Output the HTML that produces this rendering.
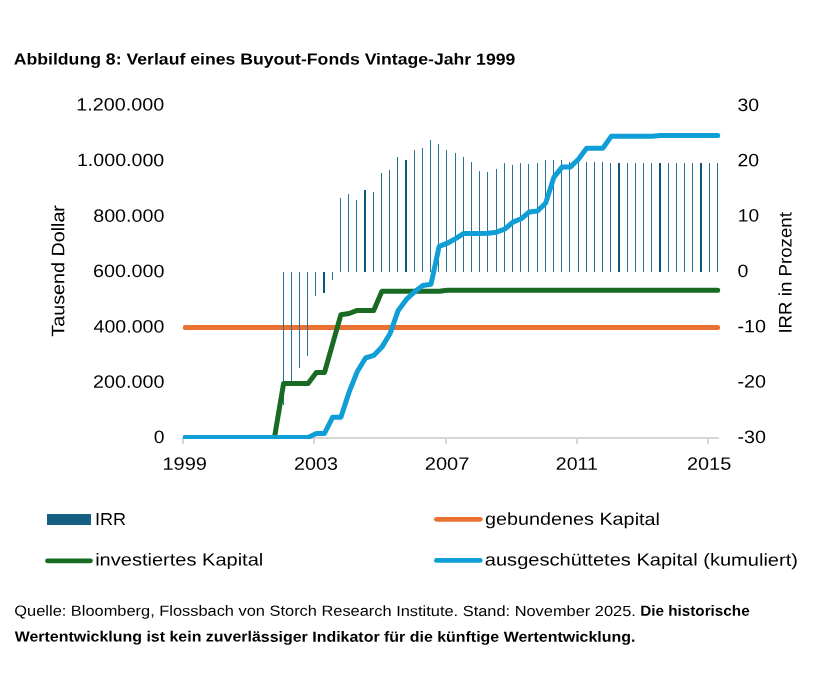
<!DOCTYPE html>
<html lang="de"><head><meta charset="utf-8"><title>Abbildung 8</title>
<style>html,body{margin:0;padding:0;background:#fff}svg{display:block;will-change:transform}text{white-space:pre;text-rendering:geometricPrecision}</style></head>
<body>
<svg width="827" height="699" viewBox="0 0 827 699" font-family="'Liberation Sans', sans-serif" fill="#000">
<rect width="827" height="699" fill="#fff"/>
<g fill="#d6d6d6" shape-rendering="crispEdges">
<rect x="182" y="437" width="537" height="2"/>
<rect x="182" y="439" width="2" height="5"/>
<rect x="313" y="439" width="2" height="5"/>
<rect x="445" y="439" width="2" height="5"/>
<rect x="576" y="439" width="2" height="5"/>
<rect x="707" y="439" width="2" height="5"/>
</g>
<defs><clipPath id="pc"><rect x="183" y="80" width="560" height="359"/></clipPath></defs>
<g clip-path="url(#pc)">
<path d="M185.3 327.45H717.6" stroke="#e97132" stroke-width="5" stroke-linecap="round" fill="none"/>
<g shape-rendering="crispEdges">
<rect x="283" y="271.8" width="1" height="133.5" fill="#2a7397"/>
<rect x="291" y="271.8" width="1" height="111.2" fill="#2a7397"/>
<rect x="299" y="271.8" width="1" height="95.7" fill="#2a7397"/>
<rect x="307" y="271.8" width="1" height="83.9" fill="#2a7397"/>
<rect x="315" y="271.8" width="1" height="23.8" fill="#2a7397"/>
<rect x="323" y="271.8" width="2" height="20.9" fill="#0f587b"/>
<rect x="332" y="271.8" width="1" height="7.9" fill="#2a7397"/>
<rect x="340" y="198.0" width="1" height="73.8" fill="#2a7397"/>
<rect x="348" y="194.0" width="1" height="77.8" fill="#2a7397"/>
<rect x="356" y="200.1" width="1" height="71.7" fill="#2a7397"/>
<rect x="364" y="190.0" width="2" height="81.8" fill="#0f587b"/>
<rect x="373" y="191.9" width="1" height="79.9" fill="#2a7397"/>
<rect x="381" y="173.0" width="1" height="98.8" fill="#2a7397"/>
<rect x="389" y="170.0" width="1" height="101.8" fill="#2a7397"/>
<rect x="397" y="157.0" width="1" height="114.8" fill="#2a7397"/>
<rect x="405" y="159.9" width="2" height="111.9" fill="#0f587b"/>
<rect x="414" y="150.0" width="1" height="121.8" fill="#2a7397"/>
<rect x="422" y="147.9" width="1" height="123.9" fill="#2a7397"/>
<rect x="430" y="140.0" width="1" height="131.8" fill="#2a7397"/>
<rect x="438" y="144.0" width="1" height="127.8" fill="#2a7397"/>
<rect x="446" y="150.1" width="1" height="121.7" fill="#2a7397"/>
<rect x="455" y="153.0" width="1" height="118.8" fill="#2a7397"/>
<rect x="463" y="157.0" width="1" height="114.8" fill="#2a7397"/>
<rect x="471" y="162.1" width="1" height="109.7" fill="#2a7397"/>
<rect x="479" y="171.1" width="1" height="100.7" fill="#2a7397"/>
<rect x="487" y="172.1" width="1" height="99.7" fill="#2a7397"/>
<rect x="496" y="169.1" width="1" height="102.7" fill="#2a7397"/>
<rect x="504" y="163.0" width="1" height="108.8" fill="#2a7397"/>
<rect x="512" y="165.0" width="1" height="106.8" fill="#2a7397"/>
<rect x="520" y="163.0" width="1" height="108.8" fill="#2a7397"/>
<rect x="528" y="164.2" width="1" height="107.6" fill="#2a7397"/>
<rect x="537" y="163.0" width="1" height="108.8" fill="#2a7397"/>
<rect x="545" y="159.9" width="1" height="111.9" fill="#2a7397"/>
<rect x="553" y="159.9" width="1" height="111.9" fill="#2a7397"/>
<rect x="561" y="159.9" width="1" height="111.9" fill="#2a7397"/>
<rect x="569" y="162.1" width="1" height="109.7" fill="#2a7397"/>
<rect x="578" y="161.5" width="1" height="110.3" fill="#2a7397"/>
<rect x="586" y="162.1" width="1" height="109.7" fill="#2a7397"/>
<rect x="594" y="162.1" width="1" height="109.7" fill="#2a7397"/>
<rect x="602" y="162.1" width="1" height="109.7" fill="#2a7397"/>
<rect x="610" y="163.0" width="1" height="108.8" fill="#2a7397"/>
<rect x="618" y="163.0" width="2" height="108.8" fill="#0f587b"/>
<rect x="627" y="163.0" width="1" height="108.8" fill="#2a7397"/>
<rect x="635" y="163.0" width="1" height="108.8" fill="#2a7397"/>
<rect x="643" y="163.0" width="1" height="108.8" fill="#2a7397"/>
<rect x="651" y="163.0" width="1" height="108.8" fill="#2a7397"/>
<rect x="659" y="163.0" width="2" height="108.8" fill="#0f587b"/>
<rect x="668" y="163.0" width="1" height="108.8" fill="#2a7397"/>
<rect x="676" y="163.0" width="1" height="108.8" fill="#2a7397"/>
<rect x="684" y="163.0" width="1" height="108.8" fill="#2a7397"/>
<rect x="692" y="163.0" width="1" height="108.8" fill="#2a7397"/>
<rect x="700" y="163.0" width="2" height="108.8" fill="#0f587b"/>
<rect x="709" y="163.0" width="1" height="108.8" fill="#2a7397"/>
<rect x="717" y="163.0" width="1" height="108.8" fill="#2a7397"/>
</g>
<polyline points="185.3,437.4 193.5,437.4 201.7,437.4 209.9,437.4 218.1,437.4 226.2,437.4 234.4,437.4 242.6,437.4 250.8,437.4 259.0,437.4 267.2,437.4 274.5,437.4 283.6,383.4 291.8,383.4 300.0,383.4 308.1,383.4 316.3,372.5 324.5,372.5 332.7,343.6 340.9,314.7 349.1,313.5 357.3,310.4 365.5,310.4 373.7,310.4 381.9,291.3 390.1,291.3 398.2,291.3 406.4,291.3 414.6,291.3 422.8,291.3 431.0,291.3 439.2,291.3 447.4,290.3 455.6,290.3 463.8,290.3 471.9,290.3 480.1,290.3 488.3,290.3 496.5,290.3 504.7,290.3 512.9,290.3 521.1,290.3 529.3,290.3 537.5,290.3 545.7,290.3 553.8,290.3 562.0,290.3 570.2,290.3 578.4,290.3 586.6,290.3 594.8,290.3 603.0,290.3 611.2,290.3 619.4,290.3 627.6,290.3 635.8,290.3 643.9,290.3 652.1,290.3 660.3,290.3 668.5,290.3 676.7,290.3 684.9,290.3 693.1,290.3 701.3,290.3 709.5,290.3 717.7,290.3" stroke="#196b24" stroke-width="5" stroke-linecap="round" stroke-linejoin="round" fill="none"/>
<polyline points="185.3,437.4 193.5,437.4 201.7,437.4 209.9,437.4 218.1,437.4 226.2,437.4 234.4,437.4 242.6,437.4 250.8,437.4 259.0,437.4 267.2,437.4 275.4,437.4 283.6,437.4 291.8,437.4 300.0,437.4 308.1,437.4 316.3,433.4 324.5,433.4 332.7,417.2 340.9,417.2 349.1,392.1 357.3,371.5 365.5,358.0 373.7,355.4 381.9,347.1 390.1,333.5 398.2,310.4 406.4,299.4 414.6,291.7 422.8,285.5 431.0,284.2 439.2,246.3 447.4,243.2 455.6,238.6 463.8,233.4 471.9,233.5 480.1,233.5 488.3,233.3 496.5,232.2 504.7,229.2 512.9,222.1 521.1,218.8 529.3,212.0 537.5,211.0 545.7,203.0 553.8,177.4 562.0,167.1 570.2,167.1 578.4,159.2 586.6,148.2 594.8,148.2 603.0,148.2 611.2,136.3 619.4,136.3 627.6,136.3 635.8,136.3 643.9,136.3 652.1,136.3 660.3,135.5 668.5,135.5 676.7,135.5 684.9,135.5 693.1,135.5 701.3,135.5 709.5,135.5 717.7,135.5" stroke="#0f9ed5" stroke-width="5" stroke-linecap="round" stroke-linejoin="round" fill="none"/>
</g>
<text id="title" x="13.75" y="64.40" transform="rotate(0.03 13.75 64.40)" font-size="16" font-weight="bold" textLength="501.59" lengthAdjust="spacingAndGlyphs">Abbildung 8: Verlauf eines Buyout-Fonds Vintage-Jahr 1999</text>
<text id="yl0" x="76.36" y="110.56" transform="rotate(0.03 76.36 110.56)" font-size="17.9" font-weight="normal" textLength="87.95" lengthAdjust="spacingAndGlyphs">1.200.000</text>
<text id="yl1" x="76.95" y="166.10" transform="rotate(0.03 76.95 166.10)" font-size="17.9" font-weight="normal" textLength="87.36" lengthAdjust="spacingAndGlyphs">1.000.000</text>
<text id="yl2" x="93.21" y="221.77" transform="rotate(0.03 93.21 221.77)" font-size="17.9" font-weight="normal" textLength="71.19" lengthAdjust="spacingAndGlyphs">800.000</text>
<text id="yl3" x="93.09" y="277.10" transform="rotate(0.03 93.09 277.10)" font-size="17.9" font-weight="normal" textLength="71.31" lengthAdjust="spacingAndGlyphs">600.000</text>
<text id="yl4" x="93.57" y="332.40" transform="rotate(0.03 93.57 332.40)" font-size="17.9" font-weight="normal" textLength="70.82" lengthAdjust="spacingAndGlyphs">400.000</text>
<text id="yl5" x="93.11" y="387.77" transform="rotate(0.03 93.11 387.77)" font-size="17.9" font-weight="normal" textLength="71.29" lengthAdjust="spacingAndGlyphs">200.000</text>
<text id="yl6" x="153.70" y="443.10" transform="rotate(0.03 153.70 443.10)" font-size="17.9" font-weight="normal" textLength="10.76" lengthAdjust="spacingAndGlyphs">0</text>
<text id="yr0" x="737.52" y="110.90" transform="rotate(0.03 737.52 110.90)" font-size="17.9" font-weight="normal" textLength="21.62" lengthAdjust="spacingAndGlyphs">30</text>
<text id="yr1" x="737.52" y="166.23" transform="rotate(0.03 737.52 166.23)" font-size="17.9" font-weight="normal" textLength="21.62" lengthAdjust="spacingAndGlyphs">20</text>
<text id="yr2" x="737.81" y="221.56" transform="rotate(0.03 737.81 221.56)" font-size="17.9" font-weight="normal" textLength="21.33" lengthAdjust="spacingAndGlyphs">10</text>
<text id="yr3" x="737.51" y="276.89" transform="rotate(0.03 737.51 276.89)" font-size="17.9" font-weight="normal" textLength="10.88" lengthAdjust="spacingAndGlyphs">0</text>
<text id="yr4" x="737.51" y="332.22" transform="rotate(0.03 737.51 332.22)" font-size="17.9" font-weight="normal" textLength="28.53" lengthAdjust="spacingAndGlyphs">-10</text>
<text id="yr5" x="737.51" y="387.55" transform="rotate(0.03 737.51 387.55)" font-size="17.9" font-weight="normal" textLength="28.53" lengthAdjust="spacingAndGlyphs">-20</text>
<text id="yr6" x="737.51" y="442.88" transform="rotate(0.03 737.51 442.88)" font-size="17.9" font-weight="normal" textLength="28.53" lengthAdjust="spacingAndGlyphs">-30</text>
<text id="xl0" x="162.48" y="469.74" transform="rotate(0.03 162.48 469.74)" font-size="17.9" font-weight="normal" textLength="44.51" lengthAdjust="spacingAndGlyphs">1999</text>
<text id="xl1" x="294.03" y="469.74" transform="rotate(0.03 294.03 469.74)" font-size="17.9" font-weight="normal" textLength="43.93" lengthAdjust="spacingAndGlyphs">2003</text>
<text id="xl2" x="424.75" y="469.74" transform="rotate(0.03 424.75 469.74)" font-size="17.9" font-weight="normal" textLength="44.62" lengthAdjust="spacingAndGlyphs">2007</text>
<text id="xl3" x="555.82" y="469.74" transform="rotate(0.03 555.82 469.74)" font-size="17.9" font-weight="normal" textLength="41.98" lengthAdjust="spacingAndGlyphs">2011</text>
<text id="xl4" x="686.93" y="469.74" transform="rotate(0.03 686.93 469.74)" font-size="17.9" font-weight="normal" textLength="44.33" lengthAdjust="spacingAndGlyphs">2015</text>
<text id="ayl" transform="translate(64.20 336.63) rotate(-89.97)" x="0" y="0" font-size="18.1" font-weight="normal" textLength="131.57" lengthAdjust="spacingAndGlyphs">Tausend Dollar</text>
<text id="ayr" transform="translate(791.40 333.60) rotate(-89.97)" x="0" y="0" font-size="18.1" font-weight="normal" textLength="121.45" lengthAdjust="spacingAndGlyphs">IRR in Prozent</text>
<rect x="47" y="514" width="44" height="11" fill="#156082"/>
<path d="M47.5 560.8H90.5" stroke="#196b24" stroke-width="4.8" stroke-linecap="round"/>
<path d="M436.4 519.3H480.2" stroke="#e97132" stroke-width="4.8" stroke-linecap="round"/>
<path d="M436.4 560.4H480.2" stroke="#0f9ed5" stroke-width="4.8" stroke-linecap="round"/>
<text id="lg0" x="94.93" y="525.00" transform="rotate(0.03 94.93 525.00)" font-size="17.3" font-weight="normal" textLength="31.06" lengthAdjust="spacingAndGlyphs">IRR</text>
<text id="lg1" x="95.16" y="565.50" transform="rotate(0.03 95.16 565.50)" font-size="17.3" font-weight="normal" textLength="168.13" lengthAdjust="spacingAndGlyphs">investiertes Kapital</text>
<text id="lg2" x="484.93" y="524.80" transform="rotate(0.03 484.93 524.80)" font-size="17.3" font-weight="normal" textLength="175.02" lengthAdjust="spacingAndGlyphs">gebundenes Kapital</text>
<text id="lg3" x="484.84" y="565.50" transform="rotate(0.03 484.84 565.50)" font-size="17.3" font-weight="normal" textLength="313.11" lengthAdjust="spacingAndGlyphs">ausgeschüttetes Kapital (kumuliert)</text>
<text id="c1" x="14.37" y="615.70" transform="rotate(0.03 14.37 615.70)" font-size="14.7" font-weight="normal" textLength="621.53" lengthAdjust="spacingAndGlyphs">Quelle: Bloomberg, Flossbach von Storch Research Institute. Stand: November 2025.</text>
<text id="c1b" x="640.18" y="615.70" transform="rotate(0.03 640.18 615.70)" font-size="14.7" font-weight="bold" textLength="109.52" lengthAdjust="spacingAndGlyphs">Die historische</text>
<text id="c2" x="14.67" y="641.50" transform="rotate(0.03 14.67 641.50)" font-size="14.7" font-weight="bold" textLength="620.79" lengthAdjust="spacingAndGlyphs">Wertentwicklung ist kein zuverlässiger Indikator für die künftige Wertentwicklung.</text>
</svg>
</body></html>
